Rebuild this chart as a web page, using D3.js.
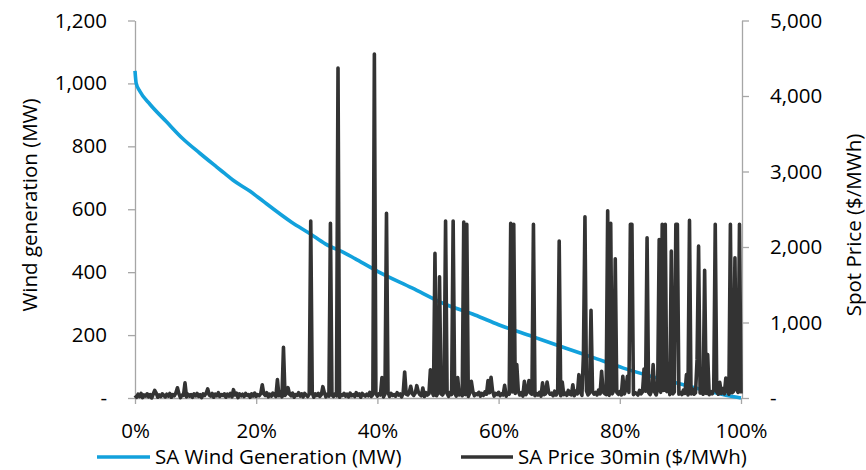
<!DOCTYPE html>
<html><head><meta charset="utf-8">
<script src="https://cdn.jsdelivr.net/npm/d3@7"></script>
<style>
html,body{margin:0;padding:0;background:#fff;}
svg{display:block;}
text{font-family:"Open Sans",sans-serif;fill:#000;}
</style></head>
<body><svg id="c" width="866" height="470"></svg>
<script>
// ---- data ----
const xTicks = [0, 20, 40, 60, 80, 100];
const leftTicks = [0, 200, 400, 600, 800, 1000, 1200];
const rightTicks = [0, 1000, 2000, 3000, 4000, 5000];

// Wind generation duration curve: percentage of time vs MW
const windPct = [0, 0.2, 0.8, 2.5, 5.2, 7.9, 10.7, 13.5, 14.85, 16.2, 19, 20.3, 25.9, 28.9, 31.4, 34.7, 36.3, 40.1, 45.7, 51.2, 56.1, 60, 65.5, 71, 75.4, 80.6, 86.1, 90.5, 95, 98, 100];
const windMW  = [1040, 1000, 975, 933, 878, 824, 778, 734, 713, 692, 657, 638, 558, 522, 490, 460, 443, 402, 350, 298, 264, 233, 196, 159, 130, 95, 64, 42, 20, 7, 0];

// Spot price baseline, every 0.25% from 0% to 100%, $/MWh
const priceStep = 0.25;
const priceBase = [
 35, 10, 50, 20, 60, 5, 40, 25, 55, 15, 45, 0, 50, 30, 65, 10, 40, 20, 55, 35,
 15, 50, 25, 60, 10, 45, 30, 70, 20, 55, 5, 40, 35, 60, 15, 50, 25, 45, 10, 55,
 30, 60, 20, 45, 5, 55, 35, 65, 15, 40, 25, 60, 10, 50, 30, 70, 20, 45, 35, 55,
 10, 50, 25, 60, 15, 45, 40, 65, 5, 55, 30, 50, 20, 60, 35, 45, 10, 55, 25, 65,
 20, 45, 30, 60, 10, 55, 35, 70, 15, 50, 25, 65, 40, 20, 55, 30, 75, 15, 45, 35,
 60, 20, 50, 30, 65, 10, 45, 35, 70, 25, 55, 15, 60, 40, 20, 50, 30, 65, 10, 55,
 35, 60, 20, 45, 30, 70, 15, 50, 25, 65, 40, 20, 55, 30, 75, 10, 45, 35, 60, 25,
 50, 15, 65, 30, 45, 20, 70, 35, 55, 10, 60, 40, 25, 50, 30, 75, 20, 45, 35, 65,
 25, 55, 40, 70, 15, 50, 30, 80, 20, 60, 35, 45, 25, 70, 40, 55, 15, 65, 30, 50,
 40, 75, 20, 55, 35, 65, 25, 80, 45, 30, 60, 20, 70, 40, 55, 25, 85, 35, 50, 30,
 65, 25, 55, 40, 80, 30, 60, 20, 75, 45, 35, 70, 25, 60, 40, 85, 30, 55, 45, 70,
 20, 65, 40, 90, 30, 55, 45, 75, 25, 60, 35, 80, 50, 30, 70, 40, 95, 25, 60, 45,
 75, 30, 55, 40, 85, 25, 65, 50, 35, 80, 45, 60, 30, 90, 40, 70, 25, 55, 45, 85,
 35, 65, 50, 95, 30, 60, 40, 75, 25, 85, 45, 55, 35, 80, 50, 65, 30, 90, 40, 70,
 55, 30, 85, 45, 65, 35, 100, 50, 40, 75, 30, 90, 55, 45, 80, 35, 70, 50, 95, 40,
 65, 35, 85, 50, 75, 40, 105, 55, 30, 80, 60, 45, 90, 35, 70, 55, 100, 40, 75, 50,
 85, 40, 65, 55, 110, 35, 75, 50, 95, 45, 70, 60, 40, 100, 55, 80, 35, 90, 50, 70,
 45, 95, 60, 80, 40, 115, 55, 75, 50, 100, 40, 85, 65, 45, 110, 55, 80, 60, 95, 50,
 75, 45, 105, 60, 85, 40, 95, 55, 120, 50, 70, 45, 100, 65, 80, 50, 110, 60, 90, 45,
 85, 55, 115, 65, 80, 50, 100, 60, 125, 55, 75, 90, 50, 110, 70, 85, 60, 120, 75, 95,
 60
];
// Price spikes: position (% of time) and price ($/MWh)
const spikePct = [3.3, 7.1, 8.25, 12.0, 16.2, 21.1, 23.5, 24.5, 25.2, 28.9, 31.1, 32.3, 33.4, 39.5, 40.8, 41.6, 44.4, 45.5, 46.6, 47.6, 48.7, 49.6, 50.2, 51.3, 52.5, 53.3, 54.3, 54.7, 55.5, 58.3, 58.7, 61.1, 62.0, 62.6, 63.1, 64.2, 65.0, 65.8, 67.2, 68.0, 70.0, 70.4, 72.2, 73.3, 74.0, 74.3, 75.3, 76.9, 78.1, 78.6, 79.2, 80.4, 81.2, 81.7, 82.1, 84.0, 84.5, 85.4, 86.6, 87.1, 87.5, 88.0, 88.5, 89.3, 89.6, 91.0, 91.6, 92.7, 93.1, 93.9, 94.4, 95.8, 96.4, 97.5, 98.2, 99.1, 99.7];
const spikeVal = [100, 135, 200, 120, 110, 176, 243, 672, 137, 2344, 150, 2313, 4370, 4555, 270, 2446, 345, 155, 163, 133, 375, 1915, 1605, 2344, 2344, 270, 2330, 2300, 220, 230, 274, 167, 2313, 2300, 442, 220, 230, 2300, 200, 212, 2078, 212, 176, 309, 575, 2400, 1163, 353, 2480, 2313, 1845, 287, 287, 2300, 2300, 385, 2123, 442, 2100, 2300, 2300, 455, 1945, 2300, 2300, 309, 2352, 508, 2011, 1693, 575, 2300, 207, 265, 2300, 1858, 2300];

const seriesNames = ["SA Wind Generation (MW)", "SA Price 30min ($/MWh)"];
const colors = ["#12a1dc", "#333333"];

// ---- build ----
const svg = d3.select("#c");
const x = d3.scaleLinear().domain([0, 100]).range([135, 741]);
const yL = d3.scaleLinear().domain([0, 1200]).range([398, 20.5]);
const yR = d3.scaleLinear().domain([0, 5000]).range([398, 20.5]);

const fmt = v => v === 0 ? "-" : d3.format(",")(v);
const axisColor = "#a6a6a6";
const fs = 20.5;

const gL = svg.append("g").attr("transform", "translate(135,0)")
  .call(d3.axisLeft(yL).tickValues(leftTicks).tickFormat(fmt).tickSize(7).tickSizeOuter(0).tickPadding(21));
const gR = svg.append("g").attr("transform", "translate(742,0)")
  .call(d3.axisRight(yR).tickValues(rightTicks).tickFormat(fmt).tickSize(7).tickSizeOuter(0).tickPadding(21));
const gB = svg.append("g").attr("transform", "translate(0,398)")
  .call(d3.axisBottom(x).tickValues(xTicks).tickFormat(d => d + "%").tickSize(6).tickSizeOuter(0).tickPadding(19));

[gL, gR, gB].forEach(g => {
  g.selectAll("path.domain").attr("stroke", axisColor).attr("stroke-width", 1.3);
  g.selectAll(".tick line").attr("stroke", axisColor).attr("stroke-width", 1.3);
  g.selectAll(".tick text").attr("font-size", fs).attr("font-family", "Open Sans").attr("fill", "#000");
});

// price series: baseline with spikes placed on their nearest sample
const priceVals = priceBase.slice();
spikePct.forEach((p, i) => { priceVals[Math.round(p / priceStep)] = spikeVal[i]; });
const pricePts = priceVals.map((v, i) => ({p: i * priceStep, v: v}));

// wind series
const windPts = windPct.map((p, i) => ({p: p, v: windMW[i]}));
svg.append("path")
  .datum(windPts)
  .attr("fill", "none")
  .attr("stroke", colors[0])
  .attr("stroke-width", 3.6)
  .attr("stroke-linejoin", "round")
  .attr("d", d3.line().x(d => x(d.p)).y(d => yL(d.v)).curve(d3.curveMonotoneX));

// price drawn on top
svg.append("path")
  .datum(pricePts)
  .attr("fill", "none")
  .attr("stroke", colors[1])
  .attr("stroke-width", 3.6)
  .attr("stroke-linejoin", "round")
  .attr("d", d3.line().x(d => x(d.p)).y(d => yR(d.v)));

// axis titles
svg.append("text")
  .attr("transform", "translate(29,205) rotate(-90)")
  .attr("text-anchor", "middle").attr("dominant-baseline", "central")
  .attr("font-size", fs).text("Wind generation (MW)");
svg.append("text")
  .attr("transform", "translate(853,225) rotate(-90)")
  .attr("text-anchor", "middle").attr("dominant-baseline", "central")
  .attr("font-size", fs).text("Spot Price ($/MWh)");

// legend
const legendY = 456;
const legend = [
  {name: seriesNames[0], color: colors[0], x1: 97, x2: 150, tx: 155},
  {name: seriesNames[1], color: colors[1], x1: 461, x2: 513, tx: 518}
];
legend.forEach(l => {
  svg.append("line").attr("x1", l.x1).attr("x2", l.x2).attr("y1", legendY + 1).attr("y2", legendY + 1)
    .attr("stroke", l.color).attr("stroke-width", 3.6);
  svg.append("text").attr("x", l.tx).attr("y", legendY).attr("dominant-baseline", "central")
    .attr("font-size", fs).text(l.name);
});
</script>
</body></html>
